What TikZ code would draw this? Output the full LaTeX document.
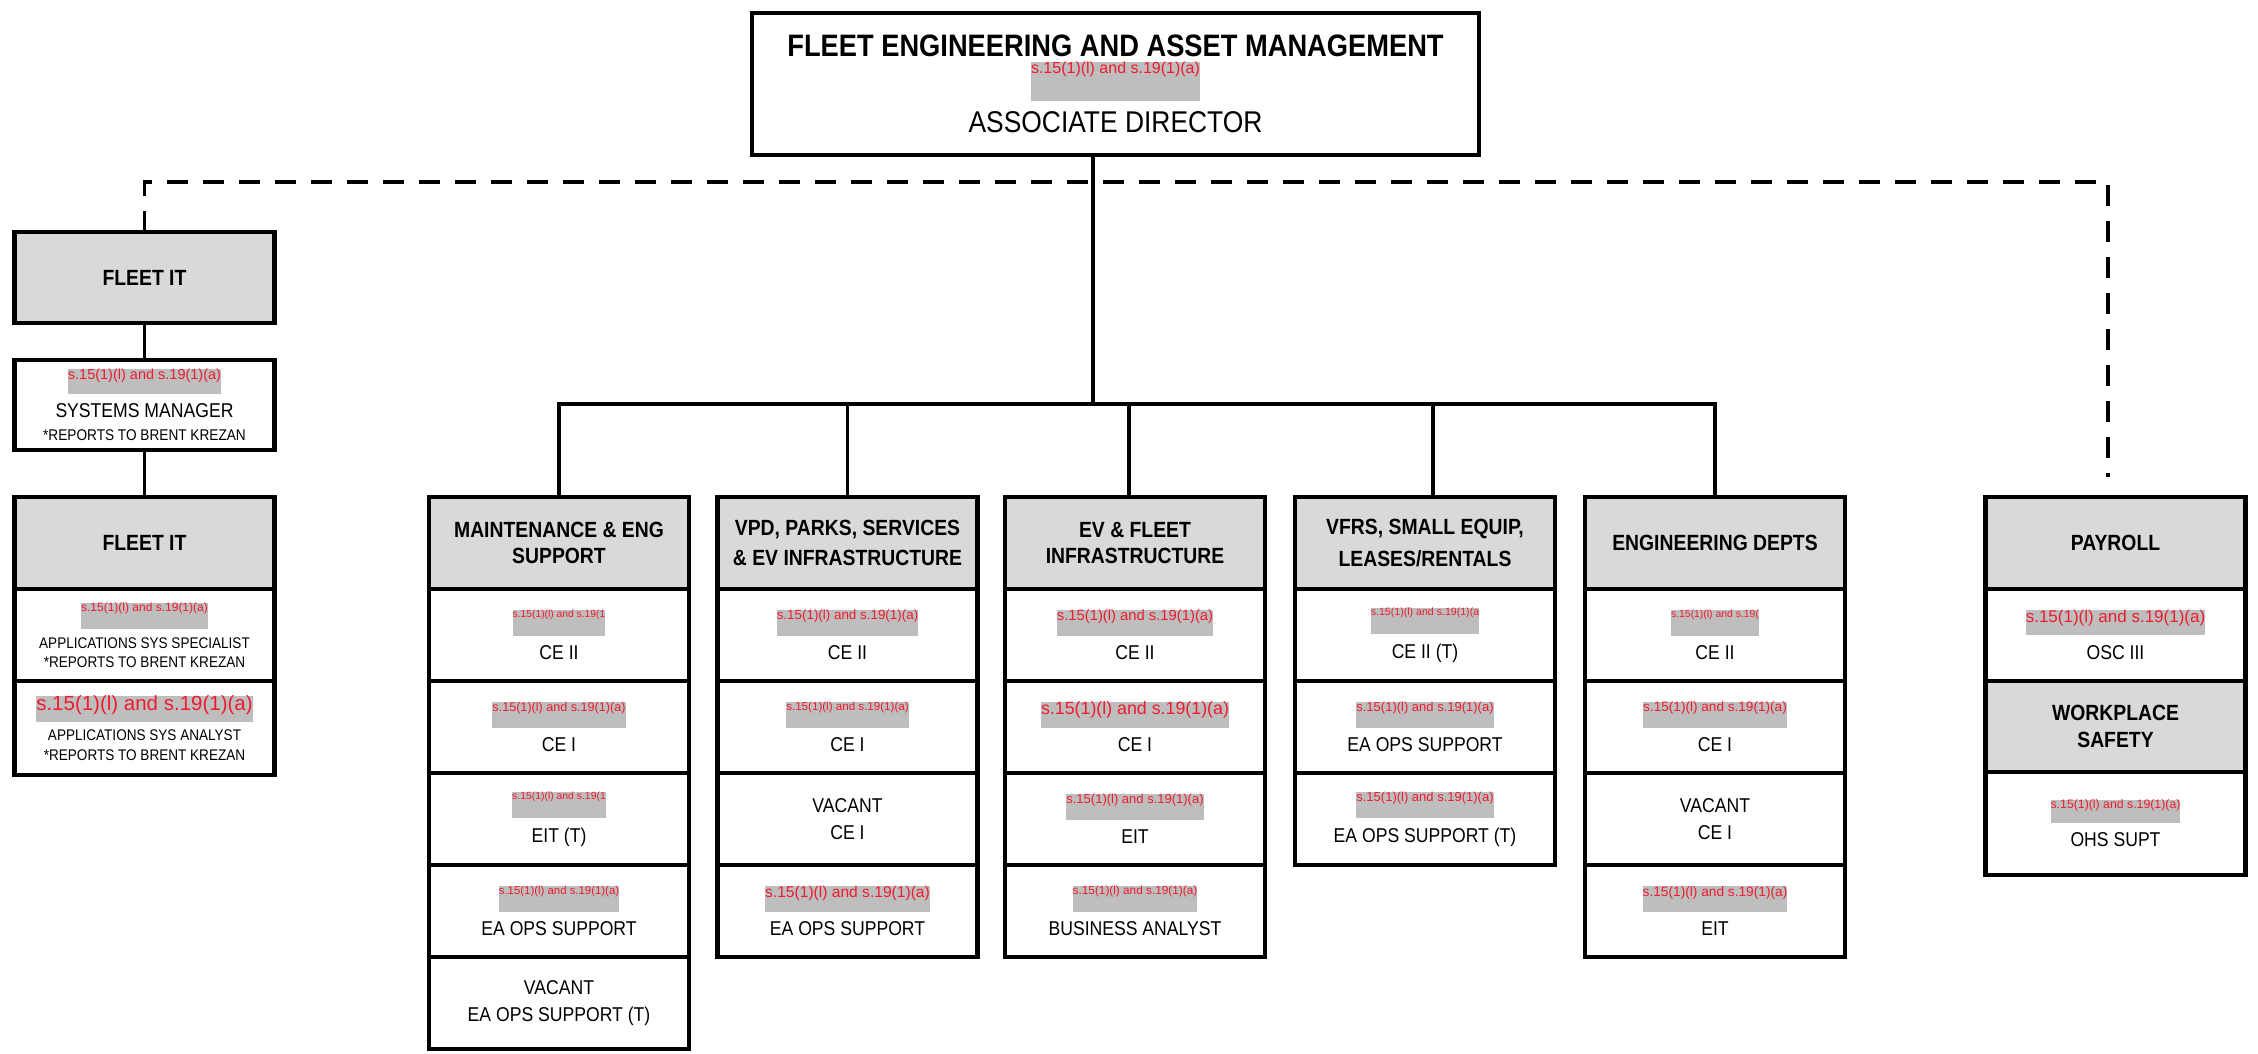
\documentclass[tikz,border=0pt]{standalone}
\usepackage{fontspec}
\setmainfont{Liberation Sans}[FakeStretch=0.88]
\newfontfamily\redfont{Liberation Sans}
\usetikzlibrary{positioning}

\definecolor{Header}{HTML}{D9D9D9}
\definecolor{Redact}{HTML}{BEBEBE}
\definecolor{RedTxt}{HTML}{EE1C2E}

% grey redaction bar, red text on top
\newcommand{\redact}[3][26]{{\setlength{\fboxsep}{0pt}\colorbox{Redact}{\redfont\fontsize{#2}{0}\selectfont\color{RedTxt}\raisebox{0pt}[\height][\dimexpr #1pt-\height\relax]{#3}}}}

\tikzset{
 box/.style={draw, rectangle, line width=4.5pt, inner sep=0pt, outer sep=0pt, align=center, minimum width=260pt},
 head/.style={box, fill=Header, font=\bfseries\fontsize{22}{0}\selectfont, minimum height=92pt},
 post/.style={box, font=\fontsize{20}{0}\selectfont, minimum height=92pt},
 fine/.style={font=\fontsize{15.4}{0}\selectfont},
 link/.style={line width=3.5pt},
 dashlink/.style={line width=3.5pt, dash pattern=on 21pt off 15pt}
}

\begin{document}
\begin{tikzpicture}[x=1pt, y=-1pt]

 \useasboundingbox (0,0) rectangle (2258,1054);

 %%%%%%%%%% Direction %%%%%%%%%%
 \node[box, minimum width=727pt, minimum height=142pt] (top) at (1115.5,84) {{\bfseries\fontsize{31}{0}\selectfont FLEET ENGINEERING AND ASSET MANAGEMENT}\\[5pt]\redact[39]{16}{s.15(1)(l) and s.19(1)(a)}\\[9pt]{\fontsize{30}{0}\selectfont ASSOCIATE DIRECTOR}};

 %%%%%%%%%% Fleet IT %%%%%%%%%%
 \node[head, minimum height=91pt] (it1) at (144.5,277.5) {FLEET IT};
 \node[post, minimum height=90pt] (sys) at (144.5,405) {\redact[25]{14.5}{s.15(1)(l) and s.19(1)(a)}\\[8pt]{\fontsize{20}{0}\selectfont SYSTEMS MANAGER}\\[11pt]{\fontsize{15.5}{0}\selectfont *REPORTS TO BRENT KREZAN}};
 \node[head] (it2) at (144.5,543) {FLEET IT};
 \node[post, fine, below=0pt of it2] (it2a) {\redact{12}{s.15(1)(l) and s.19(1)(a)}\\[8pt]APPLICATIONS SYS SPECIALIST\\[7pt]*REPORTS TO BRENT KREZAN};
 \node[post, fine, minimum height=94pt, below=0pt of it2a] (it2b) {\redact{20.5}{s.15(1)(l) and s.19(1)(a)}\\[7pt]APPLICATIONS SYS ANALYST\\[8pt]*REPORTS TO BRENT KREZAN};

 %%%%%%%%%% Maintenance %%%%%%%%%%
 \node[head] (m0) at (559,543) {MAINTENANCE \& ENG\\[10pt]SUPPORT};
 \node[post, below=0pt of m0] (m1) {\redact{10.3}{s.15(1)(l) and s.19(1}\\[9pt]CE II};
 \node[post, below=0pt of m1] (m2) {\redact{12.6}{s.15(1)(l) and s.19(1)(a)}\\[9pt]CE I};
 \node[post, below=0pt of m2] (m3) {\redact{10.4}{s.15(1)(l) and s.19(1}\\[9pt]EIT (T)};
 \node[post, below=0pt of m3] (m4) {\redact{11.4}{s.15(1)(l) and s.19(1)(a)}\\[9pt]EA OPS SUPPORT};
 \node[post, below=0pt of m4] (m5) {VACANT\\[12pt]EA OPS SUPPORT (T)};

 %%%%%%%%%% VPD %%%%%%%%%%
 \node[head] (v0) at (847.5,543) {VPD, PARKS, SERVICES\\[10pt]\& EV INFRASTRUCTURE};
 \node[post, below=0pt of v0] (v1) {\redact{13.4}{s.15(1)(l) and s.19(1)(a)}\\[9pt]CE II};
 \node[post, below=0pt of v1] (v2) {\redact{11.6}{s.15(1)(l) and s.19(1)(a)}\\[9pt]CE I};
 \node[post, below=0pt of v2] (v3) {VACANT\\[12pt]CE I};
 \node[post, below=0pt of v3] (v4) {\redact{15.6}{s.15(1)(l) and s.19(1)(a)}\\[9pt]EA OPS SUPPORT};

 %%%%%%%%%% EV %%%%%%%%%%
 \node[head] (e0) at (1135,543) {EV \& FLEET\\[10pt]INFRASTRUCTURE};
 \node[post, below=0pt of e0] (e1) {\redact{14.8}{s.15(1)(l) and s.19(1)(a)}\\[9pt]CE II};
 \node[post, below=0pt of e1] (e2) {\redact{17.8}{s.15(1)(l) and s.19(1)(a)}\\[9pt]CE I};
 \node[post, below=0pt of e2] (e3) {\redact{13}{s.15(1)(l) and s.19(1)(a)}\\[9pt]EIT};
 \node[post, below=0pt of e3] (e4) {\redact{11.8}{s.15(1)(l) and s.19(1)(a)}\\[9pt]BUSINESS ANALYST};

 %%%%%%%%%% VFRS %%%%%%%%%%
 \node[head] (f0) at (1425,543) {VFRS, SMALL EQUIP,\\[10pt]LEASES/RENTALS};
 \node[post, below=0pt of f0] (f1) {\redact{10.6}{s.15(1)(l) and s.19(1)(a}\\[9pt]CE II (T)};
 \node[post, below=0pt of f1] (f2) {\redact{13}{s.15(1)(l) and s.19(1)(a)}\\[9pt]EA OPS SUPPORT};
 \node[post, below=0pt of f2] (f3) {\redact{13}{s.15(1)(l) and s.19(1)(a)}\\[9pt]EA OPS SUPPORT (T)};

 %%%%%%%%%% Engineering %%%%%%%%%%
 \node[head] (g0) at (1715,543) {ENGINEERING DEPTS};
 \node[post, below=0pt of g0] (g1) {\redact{10.4}{s.15(1)(l) and s.19(}\\[9pt]CE II};
 \node[post, below=0pt of g1] (g2) {\redact{13.6}{s.15(1)(l) and s.19(1)(a)}\\[9pt]CE I};
 \node[post, below=0pt of g2] (g3) {VACANT\\[12pt]CE I};
 \node[post, below=0pt of g3] (g4) {\redact{13.7}{s.15(1)(l) and s.19(1)(a)}\\[9pt]EIT};

 %%%%%%%%%% Payroll %%%%%%%%%%
 \node[head] (p0) at (2115.5,543) {PAYROLL};
 \node[post, below=0pt of p0] (p1) {\redact[25]{17}{s.15(1)(l) and s.19(1)(a)}\\[9pt]OSC III};
 \node[head, minimum height=91pt, below=0pt of p1] (p2) {WORKPLACE\\[10pt]SAFETY};
 \node[post, minimum height=103pt, below=0pt of p2] (p3) {\redact[23]{12.3}{s.15(1)(l) and s.19(1)(a)}\\[9pt]OHS SUPT};

 %%%%%%%%%% Lines %%%%%%%%%%
 \coordinate (bar) at (1093,404);
 \coordinate (dsh) at (144.5,182);
 \coordinate (evtop) at ([xshift=-6pt]e0.north);
 \coordinate (vftop) at ([xshift=8pt]f0.north);
 \coordinate (payup) at (2108,477);

 \draw[link] (top.south -| bar) -- (bar);
 \draw[link] (m0.north) -- (m0.north |- bar) -- (g0.north |- bar) -- (g0.north);
 \draw[link] (v0.north) -- (v0.north |- bar);
 \draw[link] (evtop) -- (evtop |- bar);
 \draw[link] (vftop) -- (vftop |- bar);

 \draw[link] (it1) -- (sys);
 \draw[link] (sys) -- (it2);

 %%%%%%%%%% Dotted reporting %%%%%%%%%%
 \draw[dashlink] (it1.north) -- (dsh) -- (payup |- dsh) -- (payup);

\end{tikzpicture}
\end{document}
